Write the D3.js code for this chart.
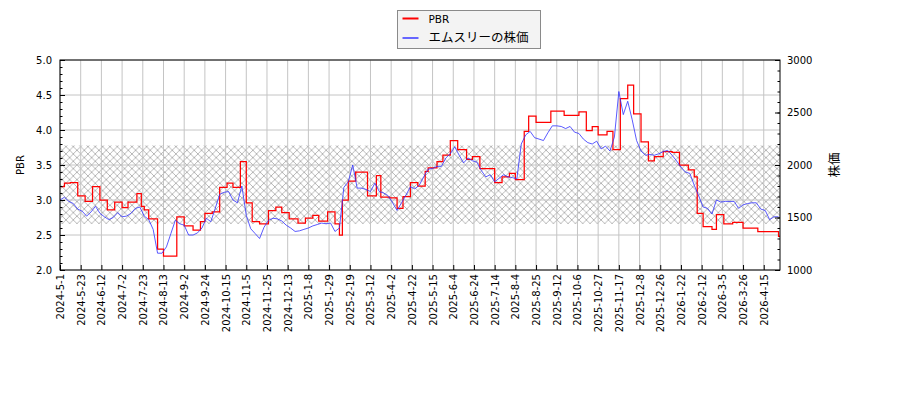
<!DOCTYPE html>
<html>
<head>
<meta charset="utf-8">
<script src="https://cdn.jsdelivr.net/npm/d3@7"></script>
<style>
  body { margin: 0; background: #fff; }
  text { font-family: "DejaVu Sans", sans-serif; }
</style>
</head>
<body>
<div id="root"></div>
<script>
// x axis: trading-day index, a label every 14 trading days
const tickLabels = ['2024-5-1', '2024-5-23', '2024-6-12', '2024-7-2', '2024-7-23', '2024-8-13', '2024-9-2',
  '2024-9-24', '2024-10-15', '2024-11-5', '2024-11-25', '2024-12-13', '2025-1-8', '2025-1-29', '2025-2-19',
  '2025-3-12', '2025-4-2', '2025-4-22', '2025-5-15', '2025-6-4', '2025-6-24', '2025-7-14', '2025-8-4',
  '2025-8-25', '2025-9-12', '2025-10-6', '2025-10-27', '2025-11-17', '2025-12-8', '2025-12-26', '2026-1-22',
  '2026-2-12', '2026-3-5', '2026-3-26', '2026-4-15'];
const tickEvery = 14;
const lastDay = 487;

// PBR (step series): day index where the value changes, and the value
const pbrDay = [0, 3, 7, 12, 17, 22, 27, 32, 37, 42, 46, 52, 55, 57, 60, 66, 70, 79, 84, 90,
  95, 98, 103, 108, 113, 117, 122, 126, 130, 135, 141, 146, 150, 155, 161, 166, 171, 175, 181, 186,
  189, 191, 195, 200, 208, 214, 217, 223, 228, 232, 237, 242, 247, 249, 255, 259, 264, 269, 275, 279,
  284, 294, 299, 304, 308, 314, 317, 322, 332, 341, 351, 356, 360, 364, 370, 374, 379, 384, 388, 393,
  398, 402, 408, 414, 419, 425, 429, 431, 435, 441, 444, 449, 455, 462, 472, 486];
const pbrValue = [3.19, 3.24, 3.25, 3.06, 2.98, 3.19, 3.00, 2.86, 2.97, 2.89, 2.97, 3.09, 2.91, 2.86, 2.73, 2.30, 2.20, 2.76, 2.63, 2.57,
  2.69, 2.81, 2.83, 3.18, 3.24, 3.18, 3.55, 2.96, 2.69, 2.66, 2.85, 2.90, 2.82, 2.73, 2.67, 2.74, 2.78, 2.70, 2.83, 2.66,
  2.50, 3.00, 3.27, 3.40, 3.06, 3.35, 3.04, 3.03, 2.88, 3.05, 3.25, 3.20, 3.41, 3.46, 3.55, 3.64, 3.85, 3.72, 3.58, 3.62,
  3.45, 3.25, 3.33, 3.38, 3.29, 3.98, 4.20, 4.11, 4.27, 4.21, 4.26, 3.99, 4.05, 3.93, 3.98, 3.72, 4.45, 4.64, 4.23, 3.83,
  3.56, 3.62, 3.69, 3.68, 3.50, 3.43, 3.33, 2.81, 2.62, 2.58, 2.79, 2.66, 2.68, 2.60, 2.55, 2.48];

// share price, one reading every 3 trading days
const priceEvery = 3;
const priceValue = [1667, 1693, 1653, 1633, 1580, 1560, 1513, 1553, 1607, 1540,
  1507, 1480, 1500, 1547, 1507, 1513, 1540, 1587, 1600, 1513,
  1480, 1387, 1160, 1160, 1220, 1347, 1473, 1440, 1427, 1333,
  1333, 1353, 1400, 1493, 1460, 1587, 1720, 1740, 1747, 1667,
  1640, 1800, 1520, 1393, 1347, 1300, 1407, 1473, 1493, 1487,
  1467, 1427, 1400, 1367, 1373, 1387, 1400, 1420, 1433, 1447,
  1440, 1447, 1367, 1400, 1787, 1840, 2000, 1780, 1780, 1767,
  1747, 1827, 1747, 1733, 1707, 1640, 1567, 1640, 1713, 1793,
  1773, 1807, 1887, 1960, 1967, 1987, 1987, 2067, 2107, 2173,
  2093, 2020, 2067, 2040, 2027, 1947, 1887, 1907, 1840, 1873,
  1907, 1887, 1880, 1867, 2200, 2287, 2320, 2260, 2247, 2233,
  2307, 2373, 2373, 2367, 2347, 2367, 2313, 2300, 2247, 2213,
  2200, 2227, 2153, 2180, 2133, 2267, 2700, 2480, 2607, 2433,
  2233, 2133, 2093, 2100, 2093, 2107, 2127, 2140, 2093, 2040,
  1980, 1933, 1920, 1807, 1707, 1600, 1587, 1533, 1667, 1647,
  1653, 1653, 1653, 1587, 1620, 1633, 1640, 1640, 1580, 1567,
  1480, 1507, 1507];

// hatched PBR band
const bandLow = 2.66;
const bandHigh = 3.78;

const seriesNames = ['PBR', 'エムスリーの株価'];

const W = 900, H = 400;
const m = {left: 60, right: 780, top: 60, bottom: 270};

const svg = d3.select('#root')
  .append('svg')
  .attr('width', W)
  .attr('height', H);

const x = d3.scaleLinear().domain([0, lastDay]).range([m.left, m.right]);
const yL = d3.scaleLinear().domain([2, 5]).range([m.bottom, m.top]);
const yR = d3.scaleLinear().domain([1000, 3000]).range([m.bottom, m.top]);

// hatch pattern
const hatch = 7.33;
const pat = svg.append('defs').append('pattern')
  .attr('id', 'hatch')
  .attr('patternUnits', 'userSpaceOnUse')
  .attr('width', hatch)
  .attr('height', hatch);
pat.append('path')
  .attr('d', `M0,0L${hatch},${hatch}M0,${hatch}L${hatch},0`)
  .attr('stroke', '#a6a6a6')
  .attr('stroke-width', 0.8);

svg.append('rect')
  .attr('x', m.left).attr('width', m.right - m.left)
  .attr('y', yL(bandHigh)).attr('height', yL(bandLow) - yL(bandHigh))
  .attr('fill', 'url(#hatch)');

// grid
const tickDays = tickLabels.map((d, i) => i * tickEvery);
const grid = svg.append('g').attr('stroke', '#c4c4c4').attr('stroke-width', 1);
grid.selectAll('.gx').data(tickDays).enter().append('line')
  .attr('x1', d => x(d)).attr('x2', d => x(d))
  .attr('y1', m.top).attr('y2', m.bottom);
grid.selectAll('.gy').data(d3.range(2, 5.01, 0.5)).enter().append('line')
  .attr('x1', m.left).attr('x2', m.right)
  .attr('y1', d => yL(d)).attr('y2', d => yL(d));

// lines
const pbrPoints = pbrDay.map((d, i) => [d, pbrValue[i]]);
pbrPoints.push([lastDay, pbrValue[pbrValue.length - 1]]);
svg.append('path')
  .datum(pbrPoints)
  .attr('fill', 'none')
  .attr('stroke', '#ff0000')
  .attr('stroke-width', 1.25)
  .attr('d', d3.line().x(d => x(d[0])).y(d => yL(d[1])).curve(d3.curveStepAfter));

svg.append('path')
  .datum(priceValue)
  .attr('fill', 'none')
  .attr('stroke', '#3030ff')
  .attr('stroke-width', 0.8)
  .attr('d', d3.line().x((d, i) => x(i * priceEvery)).y(d => yR(d)));

// axes
const fmt = d3.format('.1f');
const styleAxis = g => {
  g.selectAll('text').attr('font-size', 10).attr('fill', '#000').attr('font-family', 'DejaVu Sans');
  g.selectAll('line').attr('stroke', '#000');
  g.select('.domain').remove();
};

svg.append('g').attr('transform', `translate(${m.left},0)`)
  .call(d3.axisLeft(yL).tickValues(d3.range(2, 5.01, 0.5)).tickFormat(fmt).tickSize(-5).tickPadding(8))
  .call(styleAxis);
svg.append('g').attr('transform', `translate(${m.left},0)`)
  .call(d3.axisLeft(yL).tickValues(d3.range(20, 51, 1).map(d => d / 10)).tickFormat('').tickSize(-2.5))
  .call(styleAxis);

svg.append('g').attr('transform', `translate(${m.right},0)`)
  .call(d3.axisRight(yR).tickValues(d3.range(1000, 3001, 500)).tickFormat(d3.format('d')).tickSize(-5).tickPadding(7))
  .call(styleAxis);
svg.append('g').attr('transform', `translate(${m.right},0)`)
  .call(d3.axisRight(yR).tickValues(d3.range(1000, 3001, 100)).tickFormat('').tickSize(-2.5))
  .call(styleAxis);

const xAxis = svg.append('g').attr('transform', `translate(0,${m.bottom})`)
  .call(d3.axisBottom(x).tickValues(tickDays).tickFormat((d, i) => tickLabels[i]).tickSize(-5))
  .call(styleAxis);
xAxis.selectAll('text')
  .attr('transform', 'rotate(-90)')
  .attr('x', -4).attr('y', 0).attr('dy', '0.35em')
  .attr('text-anchor', 'end');

// frame
svg.append('rect')
  .attr('x', m.left).attr('y', m.top)
  .attr('width', m.right - m.left).attr('height', m.bottom - m.top)
  .attr('fill', 'none').attr('stroke', '#000').attr('stroke-width', 1);

// axis titles
svg.append('text')
  .attr('transform', `translate(24,${(m.top + m.bottom) / 2}) rotate(-90)`)
  .attr('text-anchor', 'middle')
  .attr('font-size', 10)
  .text('PBR');
svg.append('text')
  .attr('transform', `translate(839,${(m.top + m.bottom) / 2}) rotate(-90)`)
  .attr('text-anchor', 'middle')
  .attr('font-size', 12.5)
  .style('font-family', '"Noto Sans CJK JP", sans-serif')
  .text('株価');

// legend
const lg = svg.append('g').attr('transform', 'translate(397.5,10.5)');
lg.append('rect')
  .attr('width', 143).attr('height', 38)
  .attr('fill', '#f3f3f3').attr('stroke', '#8a8a8a').attr('stroke-width', 1);
const legendColors = ['#ff0000', '#6666ff'];
seriesNames.forEach((name, i) => {
  const yy = 8 + i * 19.5;
  lg.append('line')
    .attr('x1', 5).attr('x2', 21).attr('y1', yy).attr('y2', yy)
    .attr('stroke', legendColors[i]).attr('stroke-width', 2);
  lg.append('text')
    .attr('x', 31).attr('y', yy + 4)
    .attr('font-size', i === 0 ? 10.5 : 12.5)
    .style('font-family', i === 0 ? 'DejaVu Sans' : '"Noto Sans CJK JP", sans-serif')
    .text(name);
});
</script>
</body>
</html>
